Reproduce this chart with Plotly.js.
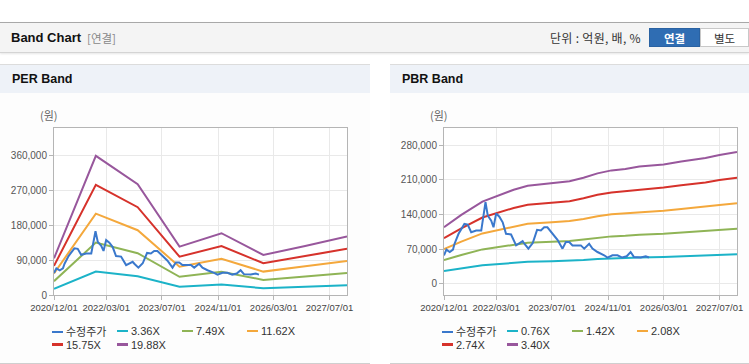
<!DOCTYPE html>
<html><head><meta charset="utf-8">
<script src="https://cdn.plot.ly/plotly-3.0.1.min.js"></script>
<style>
body{margin:0;width:749px;height:364px;overflow:hidden;background:#fff;font-family:"Liberation Sans",Arial,"Noto Sans CJK KR",sans-serif;position:relative}
.abs{position:absolute}
.hdr{left:0;top:22px;width:749px;height:29px;background:#f4f4f4;border-top:1px solid #a8a8a8;border-bottom:1px solid #d4d4d4;box-shadow:0 1px 2px rgba(0,0,0,0.10)}
.ttl{font-weight:bold;font-size:13px;color:#111;white-space:nowrap}
.sub{font-size:11.5px;color:#888;font-family:"Noto Sans CJK KR",sans-serif;white-space:nowrap}
.unit{font-size:12px;letter-spacing:0.3px;color:#333;font-family:"Noto Sans CJK KR",sans-serif;white-space:nowrap}
.btn{font-size:11.5px;font-family:"Noto Sans CJK KR",sans-serif;text-align:center;line-height:19px;height:19px;box-sizing:border-box}
.panel{top:64px;height:298px;background:#fdfdfd;border-top:1px solid #dcdcdc;border-bottom:1px solid #cfcfcf}
.phdr{left:0;top:0;right:0;height:28px;background:#eef2f8}
.ptl{left:12px;top:7px;font-weight:bold;font-size:12.5px;color:#111}
.lg{font-size:11px;color:#333;white-space:nowrap;height:14px;line-height:14px}
.lg i{display:inline-block;width:11px;height:2.5px;vertical-align:middle;margin-right:3px;position:relative;top:-1px}
.lg span.k{font-family:"Noto Sans CJK KR",sans-serif}
</style></head>
<body>
<div class="abs hdr"></div>
<div class="abs ttl" style="left:11px;top:30px">Band Chart</div>
<div class="abs sub" style="left:87px;top:30px">[연결]</div>
<div class="abs unit" style="left:550px;top:29px">단위 : 억원, 배, %</div>
<div class="abs btn" style="left:649px;top:28px;width:51px;background:#2f6db3;color:#fff;font-weight:bold;border:1px solid #2a62a2">연결</div>
<div class="abs btn" style="left:700px;top:28px;width:49px;background:#fff;color:#333;border:1px solid #c8c8c8">별도</div>

<div class="abs panel" id="p1" style="left:0;width:370px">
  <div class="abs phdr"></div>
  <div class="abs ptl">PER Band</div>
  <div class="abs" id="per" style="left:0;top:28px;width:370px;height:270px"></div>
</div>
<div class="abs panel" id="p2" style="left:390px;width:359px">
  <div class="abs phdr"></div>
  <div class="abs ptl">PBR Band</div>
  <div class="abs" id="pbr" style="left:0;top:28px;width:359px;height:270px"></div>
</div>

<script>
// ---- data ----
const priceName = '수정주가';
const priceDates = ['2020-12-01','2020-12-22','2021-01-20','2021-02-17','2021-03-03','2021-04-07','2021-05-28','2021-06-26','2021-07-26','2021-09-08','2021-10-22','2021-11-05','2021-11-28','2021-12-18','2022-01-17','2022-02-06','2022-03-01','2022-03-29','2022-04-27','2022-05-26','2022-07-09','2022-08-22','2022-09-20','2022-10-18','2022-11-02','2022-12-07','2023-01-14','2023-02-21','2023-03-26','2023-04-24','2023-05-22','2023-07-05','2023-08-18','2023-10-01','2023-10-30','2023-11-28','2023-12-27','2024-01-26','2024-03-09','2024-04-07','2024-05-20','2024-06-18','2024-08-01','2024-09-28','2024-10-27','2024-12-10','2025-01-22','2025-03-05','2025-04-13','2025-05-17','2025-06-15','2025-08-13','2025-09-26','2025-10-24'];
const priceValues = [57000,68800,64000,68800,80800,100800,120800,119400,104000,107400,107400,130800,165000,137400,127400,114000,142000,135400,124000,100800,99400,77400,82000,86000,80800,70800,82000,108800,107400,114000,114000,100800,88800,70800,84000,84000,77400,77400,77400,70800,80800,70800,64000,57400,52800,57400,57400,52800,55400,64000,54000,52800,55400,52800];

const perDates = ['2020-12-01','2021-12-01','2022-12-01','2023-12-01','2024-12-01','2025-12-01','2026-12-01','2027-12-01'];
const perNames = ['3.36X','7.49X','11.62X','15.75X','19.88X'];
const per336  = [16100, 60800, 48500, 21100, 27000, 17500, 21500, 25500];
const per749  = [35800, 135600, 108000, 47100, 60200, 39000, 47900, 56900];
const per1162 = [55500, 210400, 167600, 73100, 93400, 60500, 74300, 88300];
const per1575 = [75300, 285200, 227100, 99100, 126600, 82100, 100600, 119700];
const per1988 = [95000, 360000, 286700, 125000, 159800, 103600, 127000, 151100];

const pbrDates = ['2020-12-01','2021-05-01','2021-11-01','2022-03-01','2022-08-01','2022-12-01','2023-07-01','2023-12-01','2024-04-01','2024-08-01','2024-12-01','2025-04-01','2025-08-01','2026-03-01','2026-08-01','2027-03-01','2027-07-01','2027-12-01'];
const pbrNames = ['0.76X','1.42X','2.08X','2.74X','3.40X'];
const pbr076 = [25500,31100,37100,39300,42500,44300,45400,46300,47800,49800,51200,51900,53000,53900,55200,56800,58100,59500];
const pbr142 = [47600,58100,69300,73500,79400,82700,84800,86500,89400,93100,95600,96900,99000,100700,103200,106100,108600,111100];
const pbr208 = [69700,85000,101600,107700,116200,121100,124200,126600,130900,136400,140100,141900,145000,147400,151100,155400,159100,162700];
const pbr274 = [91900,112000,133800,141800,153100,159600,163600,166800,172500,179700,184500,187000,191000,194200,199100,204700,209500,214400];
const pbr340 = [114000,139000,166000,176000,190000,198000,203000,207000,214000,223000,229000,232000,237000,241000,247000,254000,260000,266000];

const xTickVals = ['2020-12-01','2022-03-01','2023-07-01','2024-11-01','2026-03-01','2027-07-01'];
const xTickText = ['2020/12/01','2022/03/01','2023/07/01','2024/11/01','2026/03/01','2027/07/01'];
const perYTicks = [0, 90000, 180000, 270000, 360000];
const pbrYTicks = [0, 70000, 140000, 210000, 280000];

const priceColor = '#3a78cc';
const bandColors = ['#1cb3c8','#8fb456','#f4a83c','#d6322b','#98579c'];

// ---- charts ----
function traces(bandDates, bands, names){
  const t = [];
  bands.forEach((b,i)=>t.push({x:bandDates,y:b,name:names[i],type:'scatter',mode:'lines',line:{color:bandColors[i],width:2},hoverinfo:'skip'}));
  t.push({x:priceDates,y:priceValues,name:priceName,type:'scatter',mode:'lines',line:{color:priceColor,width:2},hoverinfo:'skip'});
  return t;
}
function layout(ml, mr, yr, yt){
  return {
    width: ml + mr + 293, height: 270,
    margin:{l:ml, r:mr, t:35, b:68, pad:0},
    paper_bgcolor:'rgba(0,0,0,0)', plot_bgcolor:'#fff',
    showlegend:false,
    font:{family:'"Liberation Sans", Arial, sans-serif', size:10, color:'#555'},
    xaxis:{type:'date', range:['2020-12-01','2027-12-01'], tickvals:xTickVals, ticktext:xTickText, tickangle:0,
      showgrid:true, gridcolor:'#e9e9e9', gridwidth:1, showline:true, linecolor:'#b5b5b5', mirror:true,
      ticks:'outside', ticklen:4, tickcolor:'#b5b5b5', tickfont:{size:9.5, color:'#444'}, zeroline:false, fixedrange:true, automargin:false},
    yaxis:{range:yr, tickvals:yt, tickformat:',', showgrid:true, gridcolor:'#e9e9e9', gridwidth:1,
      showline:true, linecolor:'#b5b5b5', mirror:true, ticks:'outside', ticklen:4, tickcolor:'#b5b5b5',
      tickfont:{size:10, color:'#555'}, zeroline:false, fixedrange:true, automargin:false},
    annotations:[{text:'(원)', xref:'paper', yref:'paper', x:0, y:1, xanchor:'center', yanchor:'bottom',
      xshift:-5, yshift:3, showarrow:false, font:{family:'"Noto Sans CJK KR", sans-serif', size:11, color:'#666'}}]
  };
}
const cfg = {staticPlot:true, displayModeBar:false};
Plotly.newPlot('per', traces(perDates,[per336,per749,per1162,per1575,per1988],perNames), layout(54,23,[0,432000],perYTicks), cfg);
Plotly.newPlot('pbr', traces(pbrDates,[pbr076,pbr142,pbr208,pbr274,pbr340],pbrNames), layout(54,12,[-22900,314700],pbrYTicks), cfg);

// ---- legends (HTML) ----
function legend(panelId, names){
  const p = document.getElementById(panelId);
  const items = [{n:priceName,c:priceColor,k:true}].concat(names.map((n,i)=>({n:n,c:bandColors[i]})));
  items.forEach((it,i)=>{
    const d = document.createElement('div');
    d.className = 'abs lg';
    const col = i % 4, row = Math.floor(i/4);
    d.style.left = (52 + col*65) + 'px';
    d.style.top = (259 + row*13.5) + 'px';
    d.innerHTML = '<i style="background:'+it.c+'"></i>' + (it.k ? '<span class="k">'+it.n+'</span>' : it.n);
    p.appendChild(d);
  });
}
legend('p1', perNames);
legend('p2', pbrNames);
</script>
</body></html>
